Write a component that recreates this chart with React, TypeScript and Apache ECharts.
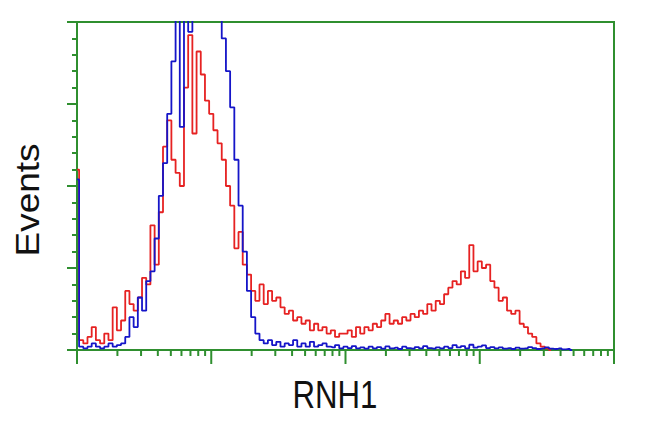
import React, { useEffect, useRef } from "react";
import * as echarts from "echarts";

// Histogram counts per channel pair (256 channels over 4 log decades, 2 channels per point)
const redCounts: number[] = [
  55, 3, 2, 4, 7, 3, 2, 5, 3, 13,
  6, 9, 18, 14, 12, 16, 22, 20, 38, 26,
  42, 62, 70, 58, 54, 50, 80, 96, 66, 91,
  84, 76, 72, 67, 63, 58, 50, 44, 31, 36,
  26, 23, 18, 15, 20, 14, 18, 15, 16, 13,
  11, 12, 9, 10, 8, 9, 6, 8, 6, 7,
  5, 6, 4, 5, 5, 6, 4, 7, 5, 7,
  6, 8, 7, 9, 11, 8, 9, 8, 10, 9,
  11, 10, 12, 11, 14, 12, 15, 14, 17, 19,
  21, 20, 24, 22, 32, 24, 27, 25, 26, 21,
  19, 15, 16, 12, 11, 12, 8, 7, 5, 4,
  2, 1, 0.5, 0,
];

const blueCounts: number[] = [
  52, 1, 0.5, 1, 2, 1, 0.5, 1, 2, 1,
  1.5, 2, 4, 10, 7, 16, 12, 21, 24, 34,
  47, 57, 72, 88, 125, 68, 125, 97, 130, 130,
  130, 130, 130, 130, 130, 95, 85, 74, 58, 44,
  30, 18, 10, 5, 3, 2, 3, 1.5, 2.5, 1,
  2, 1.5, 3, 1, 2, 1, 2.5, 1, 1.5, 2,
  1, 0.8, 1.5, 0.5, 1, 0.6, 1.2, 0.5, 0.8, 0.4,
  1, 0.5, 0.9, 0.4, 1.1, 0.5, 0.7, 0.3, 1, 0.6,
  0.4, 0.9, 0.5, 1.2, 0.6, 0.4, 0.8, 0.5, 1, 0.6,
  1.5, 0.8, 1.2, 0.5, 1.6, 0.7, 1, 1.4, 0.6, 0.9,
  0.5, 0.8, 0.4, 0.6, 0.3, 0.7, 0.4, 0.5, 0.9, 0.6,
  0.3, 0.5, 0.8, 0.4, 0.3, 0.5, 0.2, 0.3, 0,
];

const pointsPerDecade = 32;
const decades = [0, 1, 2, 3];
const multipliers = [1, 2, 3, 4, 5, 6, 7, 8, 9];
const xAxisName = "RNH1";
const yAxisName = "Events";

const GREEN = "#2f8f2f";
const RED = "#e62222";
const BLUE = "#1515c8";

export default function App() {
  const ref = useRef<HTMLDivElement>(null);

  useEffect(() => {
    if (!ref.current) return;
    const chart = echarts.init(ref.current, undefined, { renderer: "svg" });

    const tickData: number[][] = [];
    decades.forEach((d) => {
      multipliers.forEach((m) => {
        tickData.push([d + Math.log10(m), m === 1 ? 1 : 0]);
      });
    });
    tickData.push([4, 1]);

    const toPairs = (arr: number[]) => arr.map((v, i) => [i / pointsPerDecade, v]);

    chart.setOption({
      animation: false,
      grid: {
        left: 77,
        top: 22,
        right: 36,
        bottom: 82,
        show: true,
        borderColor: GREEN,
        borderWidth: 2,
        backgroundColor: "transparent",
      },
      xAxis: {
        type: "value",
        min: 0,
        max: 4,
        interval: 1,
        axisLine: { show: true, lineStyle: { color: GREEN, width: 2 } },
        axisTick: { show: false },
        axisLabel: { show: false },
        splitLine: { show: false },
      },
      yAxis: {
        type: "value",
        min: 0,
        max: 100,
        interval: 25,
        axisLine: { show: true, lineStyle: { color: GREEN, width: 2 } },
        axisTick: { show: true, length: 10, lineStyle: { color: GREEN, width: 2 } },
        minorTick: { show: true, splitNumber: 5, length: 5, lineStyle: { color: GREEN, width: 2 } },
        axisLabel: { show: false },
        splitLine: { show: false },
      },
      graphic: [
        {
          type: "text",
          x: 335,
          y: 394,
          scaleX: 0.8,
          style: {
            text: xAxisName,
            fontSize: 39,
            fontFamily: "Liberation Sans, Arial, sans-serif",
            align: "center",
            verticalAlign: "middle",
            fill: "#111",
          },
        },
        {
          type: "text",
          x: 27,
          y: 200,
          rotation: Math.PI / 2,
          scaleY: 0.9,
          style: {
            text: yAxisName,
            fontSize: 37,
            fontFamily: "Liberation Sans, Arial, sans-serif",
            align: "center",
            verticalAlign: "middle",
            fill: "#111",
          },
        },
      ],
      series: [
        {
          type: "custom",
          coordinateSystem: "cartesian2d",
          data: tickData,
          silent: true,
          renderItem: (_params: any, api: any) => {
            const p = api.coord([api.value(0), 0]);
            const len = api.value(1) === 1 ? 14 : 6;
            return {
              type: "line",
              shape: { x1: p[0], y1: p[1], x2: p[0], y2: p[1] + len },
              style: { stroke: GREEN, lineWidth: 2 },
            };
          },
        },
        {
          type: "line",
          data: toPairs(redCounts),
          step: "middle",
          showSymbol: false,
          symbol: "none",
          clip: true,
          lineStyle: { color: RED, width: 1.8 },
          z: 3,
        },
        {
          type: "line",
          data: toPairs(blueCounts),
          step: "middle",
          showSymbol: false,
          symbol: "none",
          clip: true,
          lineStyle: { color: BLUE, width: 1.8 },
          z: 4,
        },
      ],
    });

    return () => chart.dispose();
  }, []);

  return (
    <div
      ref={ref}
      style={{ position: "fixed", left: 0, top: 0, width: 650, height: 432, background: "#fff" }}
    />
  );
}
